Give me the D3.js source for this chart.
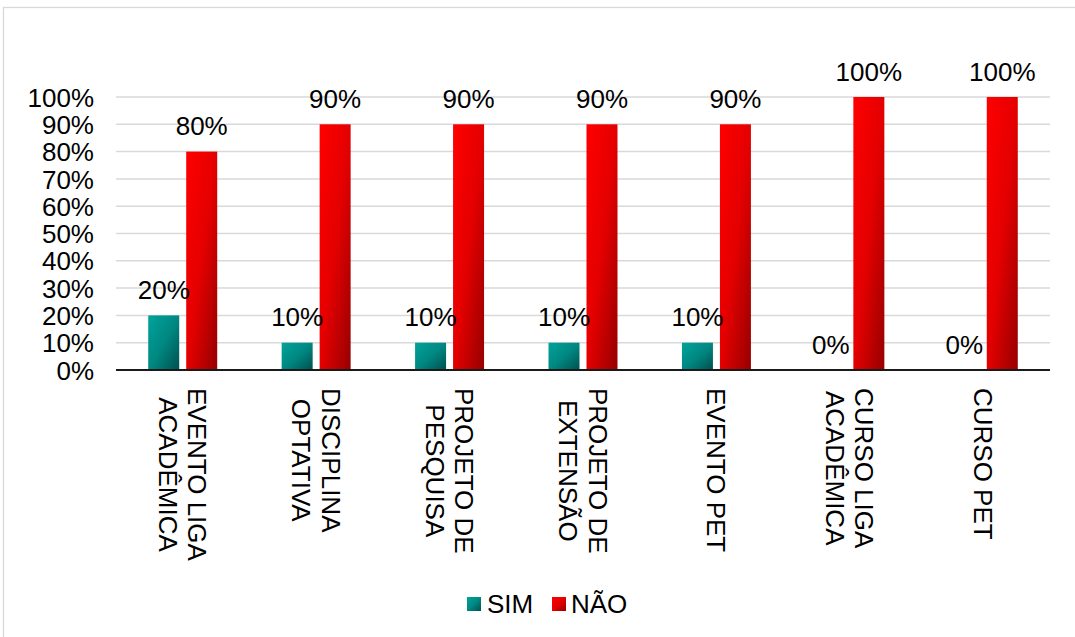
<!DOCTYPE html>
<html>
<head>
<meta charset="utf-8">
<script src="https://cdn.jsdelivr.net/npm/d3@7"></script>
<style>
  html, body { margin: 0; padding: 0; background: #fff; }
  svg { display: block; font-family: "Liberation Sans", Arial, sans-serif; }
</style>
</head>
<body>
<svg id="chart" width="1075" height="637"></svg>
<script>
// Participation in activities (share of respondents)
const categories = [
  "EVENTO LIGA ACADÊMICA",
  "DISCIPLINA OPTATIVA",
  "PROJETO DE PESQUISA",
  "PROJETO DE EXTENSÃO",
  "EVENTO PET",
  "CURSO LIGA ACADÊMICA",
  "CURSO PET"
];
// Axis label lines for each category
const categoryLines = [
  ["EVENTO LIGA", "ACADÊMICA"],
  ["DISCIPLINA", "OPTATIVA"],
  ["PROJETO DE", "PESQUISA"],
  ["PROJETO DE", "EXTENSÃO"],
  ["EVENTO PET"],
  ["CURSO LIGA", "ACADÊMICA"],
  ["CURSO PET"]
];
const seriesNames = ["SIM", "NÃO"];
const simValues = [20, 10, 10, 10, 10, 0, 0];
const naoValues = [80, 90, 90, 90, 90, 100, 100];
const yTicks = [0, 10, 20, 30, 40, 50, 60, 70, 80, 90, 100];

const W = 1075, H = 637;
const plot = { left: 116, right: 1050, top: 97, bottom: 370 };
const FONT = 26;

const svg = d3.select("#chart");

// gradients for the bar fills
const defs = svg.append("defs");
function gradient(id, stops) {
  const g = defs.append("linearGradient").attr("id", id)
    .attr("x1", 0).attr("y1", 0).attr("x2", 1).attr("y2", 1);
  stops.forEach(([o, c]) => g.append("stop").attr("offset", o).attr("stop-color", c));
}
gradient("gradSim", [[0, "#00a39b"], [0.5, "#008882"], [1, "#00504e"]]);
gradient("gradNao", [[0, "#ff0000"], [0.5, "#e40000"], [1, "#960000"]]);
const fills = { "SIM": "url(#gradSim)", "NÃO": "url(#gradNao)" };

// outer frame
svg.append("rect")
  .attr("x", 3.5).attr("y", 7.5)
  .attr("width", W + 10).attr("height", H + 10)
  .attr("fill", "none").attr("stroke", "#d9d9d9").attr("stroke-width", 1.3);

const x0 = d3.scaleBand().domain(categories).range([plot.left, plot.right]).padding(0);
const groupW = x0.bandwidth() * 0.517;
const x1 = d3.scaleBand().domain(seriesNames).range([0, groupW]).paddingInner(0.184).paddingOuter(0);
const y = d3.scaleLinear().domain([0, 100]).range([plot.bottom, plot.top]);

// gridlines
svg.append("g").selectAll("line")
  .data(yTicks.filter(t => t > 0))
  .join("line")
  .attr("x1", plot.left).attr("x2", plot.right)
  .attr("y1", d => y(d)).attr("y2", d => y(d))
  .attr("stroke", "#d9d9d9").attr("stroke-width", 1.5);

// y axis labels
const yAxis = d3.axisLeft(y).tickValues(yTicks).tickFormat(d => d + "%").tickSize(0).tickPadding(0);
const yAxisG = svg.append("g")
  .attr("transform", `translate(${plot.left - 22},0)`)
  .call(yAxis);
yAxisG.select(".domain").remove();
yAxisG.selectAll("text")
  .attr("font-size", FONT)
  .attr("font-family", "Liberation Sans, Arial, sans-serif")
  .attr("fill", "#000")
  .attr("dy", "0.35em");

// bars
const rows = categories.map((c, i) => ({ cat: c, i, values: [simValues[i], naoValues[i]] }));
const groups = svg.append("g").selectAll("g")
  .data(rows)
  .join("g")
  .attr("transform", d => `translate(${x0(d.cat) + (x0.bandwidth() - groupW) / 2},0)`);

groups.selectAll("rect")
  .data(d => seriesNames.map((s, k) => ({ s, v: d.values[k] })))
  .join("rect")
  .attr("x", d => x1(d.s))
  .attr("width", x1.bandwidth())
  .attr("y", d => y(d.v))
  .attr("height", d => y(0) - y(d.v))
  .attr("fill", d => fills[d.s]);

// value labels
groups.selectAll("text")
  .data(d => seriesNames.map((s, k) => ({ s, v: d.values[k] })))
  .join("text")
  .attr("x", d => x1(d.s) + x1.bandwidth() / 2)
  .attr("y", d => y(d.v) - 16.5)
  .attr("text-anchor", "middle")
  .attr("font-size", FONT)
  .attr("fill", "#000")
  .text(d => d.v + "%");

// baseline axis
svg.append("line")
  .attr("x1", plot.left).attr("x2", plot.right)
  .attr("y1", y(0)).attr("y2", y(0))
  .attr("stroke", "#1a1a1a").attr("stroke-width", 1.8);

// rotated category labels
const lineGap = 29.5;
const labelTop = 388;
categories.forEach((c, i) => {
  const lines = categoryLines[i];
  const cx = x0(c) + x0.bandwidth() / 2;
  const g = svg.append("g")
    .attr("transform", `translate(${cx},${labelTop}) rotate(90)`);
  const texts = lines.map((ln, k) => {
    const offset = (k - (lines.length - 1) / 2) * lineGap;
    return g.append("text")
      .attr("y", offset)
      .attr("dy", "0.35em")
      .attr("text-anchor", "middle")
      .attr("font-size", FONT)
      .attr("fill", "#000")
      .text(ln);
  });
  const maxLen = d3.max(texts, t => t.node().getComputedTextLength());
  texts.forEach(t => t.attr("x", maxLen / 2));
});

// legend
const legend = svg.append("g");
const legendItems = [
  { name: "SIM", sx: 467, tx: 487 },
  { name: "NÃO", sx: 552, tx: 571 }
];
legendItems.forEach(it => {
  legend.append("rect")
    .attr("x", it.sx).attr("y", 597)
    .attr("width", 14).attr("height", 14)
    .attr("fill", fills[it.name]);
  legend.append("text")
    .attr("x", it.tx).attr("y", 613)
    .attr("font-size", FONT)
    .attr("fill", "#000")
    .text(it.name);
});
</script>
</body>
</html>
